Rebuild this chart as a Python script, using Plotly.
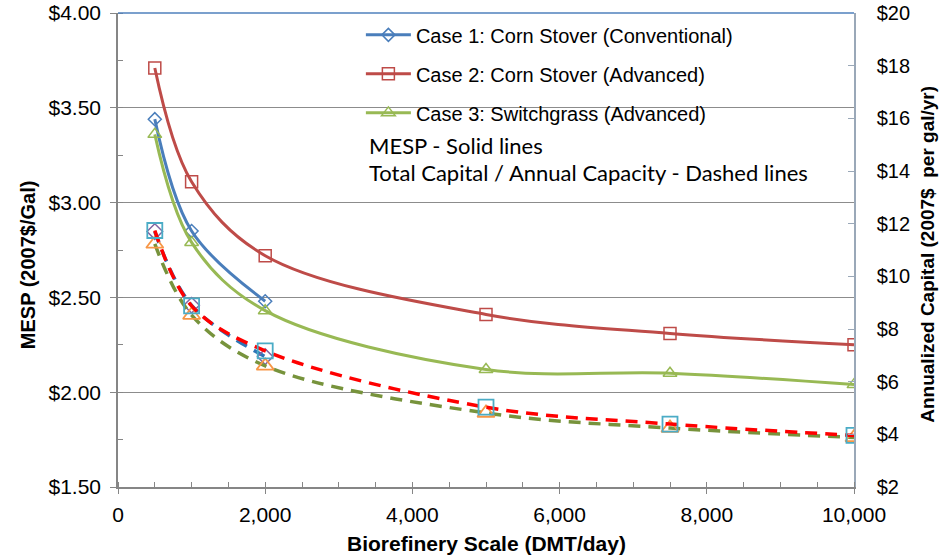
import plotly.graph_objects as go

# Data
scale = [500, 1000, 2000, 5000, 7500, 10000]
case1_scale = [500, 1000, 2000]
case1_mesp = [3.44, 2.85, 2.48]
case2_mesp = [3.71, 3.11, 2.72, 2.41, 2.31, 2.25]
case3_mesp = [3.36, 2.79, 2.43, 2.12, 2.10, 2.04]
case1_cap = [11.70, 8.90, 6.95]
case2_cap = [11.74, 8.88, 7.17, 5.03, 4.39, 3.96]
case3_cap = [11.23, 8.53, 6.60, 4.81, 4.24, 3.88]

names = ["Case 1: Corn Stover (Conventional)",
         "Case 2: Corn Stover (Advanced)",
         "Case 3: Switchgrass (Advanced)"]

FONT = "Liberation Sans, Arial, sans-serif"
NARROW = "Liberation Sans Narrow, Arial Narrow, Liberation Sans, sans-serif"
CAL = "Lato, Open Sans, sans-serif"

fig = go.Figure()

# Capital (dashed, right axis)
fig.add_trace(go.Scatter(x=case1_scale, y=case1_cap, yaxis="y2", mode="lines+markers",
                         line=dict(color="#2E75B6", width=3.5, dash="12px,8px", shape="spline"),
                         marker=dict(symbol="diamond-open", size=12, color="#8064A2",
                                     line=dict(width=1.5, color="#8064A2")),
                         showlegend=False))
fig.add_trace(go.Scatter(x=scale, y=case3_cap, yaxis="y2", mode="lines+markers",
                         line=dict(color="#77933C", width=3.5, dash="12px,8px", shape="spline"),
                         marker=dict(symbol="triangle-up-open", size=15, color="#F79646",
                                     line=dict(width=1.8, color="#F79646")),
                         showlegend=False))
fig.add_trace(go.Scatter(x=scale, y=case2_cap, yaxis="y2", mode="lines+markers",
                         line=dict(color="#FF0000", width=3.5, dash="12px,8px", shape="spline"),
                         marker=dict(symbol="square-open", size=15, color="#4BACC6",
                                     line=dict(width=1.8, color="#4BACC6")),
                         showlegend=False))

# MESP (solid, left axis)
fig.add_trace(go.Scatter(x=case1_scale, y=case1_mesp, mode="lines+markers", name=names[0],
                         legendgroup="c1",
                         line=dict(color="#4A7EBB", width=3, shape="spline"),
                         marker=dict(symbol="diamond-open", size=10, color="#4A7EBB",
                                     line=dict(width=1.5, color="#4A7EBB"))))
fig.add_trace(go.Scatter(x=scale, y=case2_mesp, mode="lines+markers", name=names[1],
                         legendgroup="c2",
                         line=dict(color="#BE4B48", width=3, shape="spline"),
                         marker=dict(symbol="square-open", size=12, color="#BE4B48",
                                     line=dict(width=1.5, color="#BE4B48"))))
fig.add_trace(go.Scatter(x=scale, y=case3_mesp, mode="lines+markers", name=names[2],
                         legendgroup="c3",
                         line=dict(color="#98B954", width=3, shape="spline"),
                         marker=dict(symbol="triangle-up-open", size=12, color="#98B954",
                                     line=dict(width=1.5, color="#98B954"))))

fig.update_layout(
    width=941, height=557,
    margin=dict(l=118, r=87, t=13, b=70),
    paper_bgcolor="white", plot_bgcolor="white",
    font=dict(family=FONT, size=20, color="black"),
    showlegend=True,
    legend=dict(x=0.330, y=0.995, xanchor="left", yanchor="top",
                bgcolor="rgba(0,0,0,0)", borderwidth=0, font=dict(size=20, family=FONT),
                tracegroupgap=10, itemwidth=45, traceorder="grouped"),
    xaxis=dict(range=[0, 10000], dtick=2000, tickformat=",", showgrid=False,
               showline=True, linecolor="#868686", linewidth=1.5,
               ticks="outside", ticklen=5, tickcolor="#868686",
               minor=dict(dtick=500, ticks="inside", ticklen=5, tickcolor="#868686", showgrid=False),
               zeroline=False, automargin=False, ticklabelstandoff=3,
               tickfont=dict(size=21, family=NARROW)),
    yaxis=dict(range=[1.5, 4.0], dtick=0.5, tickprefix="$", tickformat=".2f",
               showgrid=True, gridcolor="#8C8C8C", gridwidth=1.3,
               showline=True, linecolor="#868686", linewidth=1.5,
               ticks="outside", ticklen=6, tickcolor="#868686",
               minor=dict(dtick=0.25, ticks="inside", ticklen=5, tickcolor="#868686", showgrid=False),
               zeroline=False, automargin=False, ticklabelstandoff=5,
               tickfont=dict(size=21)),
    yaxis2=dict(range=[2, 20], dtick=2, tickprefix="$", overlaying="y", side="right",
                showgrid=False, showline=True, linecolor="#9AA8B8", linewidth=1.5,
                ticks="inside", ticklen=6, tickcolor="#9AA8B8",
                zeroline=False, automargin=False, ticklabelstandoff=17,
                tickfont=dict(size=20)),
)

# axis titles
fig.add_annotation(xref="paper", yref="paper", x=0.501, y=(487 - 543) / 474, xanchor="center", yanchor="middle",
                   text="<b>Biorefinery Scale (DMT/day)</b>", showarrow=False,
                   font=dict(size=21, family=FONT))
fig.add_annotation(xref="paper", yref="paper", x=(28 - 118) / 736, y=0.468, xanchor="center", yanchor="middle",
                   text="<b>MESP (2007$/Gal)</b>", showarrow=False, textangle=-90,
                   font=dict(size=20, family=FONT))
fig.add_annotation(xref="paper", yref="paper", x=(928 - 118) / 736, y=0.49, xanchor="center", yanchor="middle",
                   text="<b>Annualized Capital (2007$\u00a0 per gal/yr)</b>", showarrow=False, textangle=-90,
                   font=dict(size=19, family=FONT))

# top border line and legend box
fig.add_shape(type="line", xref="paper", yref="paper", x0=0, x1=1, y0=1, y1=1,
              line=dict(color="#4F81BD", width=1.5))
fig.add_shape(type="rect", xref="paper", yref="paper", x0=0.325, x1=0.897, y0=0.627, y1=0.996,
              fillcolor="white", line=dict(width=0), layer="between")
fig.add_annotation(xref="paper", yref="paper", x=(367 - 118) / 736, y=(487 - 145) / 474,
                   xanchor="left", yanchor="middle",
                   text="MESP - Solid lines", showarrow=False,
                   font=dict(family=CAL, size=22, color="black"))
fig.add_annotation(xref="paper", yref="paper", x=(367 - 118) / 736, y=(487 - 172) / 474,
                   xanchor="left", yanchor="middle",
                   text="Total Capital / Annual Capacity - Dashed lines", showarrow=False,
                   font=dict(family=CAL, size=22, color="black"))

fig.write_html("out.html", config={"displayModeBar": False},
               post_script="document.body.style.margin='0';")
